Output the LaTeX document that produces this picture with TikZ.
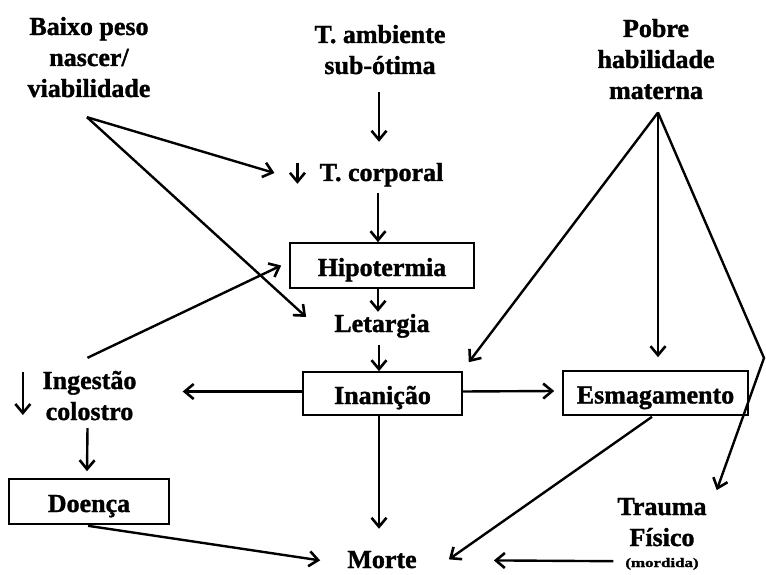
\documentclass[tikz,border=0pt]{standalone}
\usepackage{fontspec}
\setmainfont{Liberation Serif}[BoldFeatures={FakeBold=1.3}]
\usetikzlibrary{arrows.meta,calc}
\begin{document}
\begin{tikzpicture}[x=1pt,y=-1pt,
  txt/.style={inner sep=0pt,anchor=base,font=\bfseries\fontsize{26}{31}\selectfont},
  box/.style={draw,line width=1.6pt,inner sep=0pt,text height=21pt,text depth=0pt,font=\bfseries\fontsize{26}{31}\selectfont},
  arr/.style={line width=2.4pt,-{Straight Barb[length=9pt,width=15pt,line width=2.6pt]}}]
\useasboundingbox (0,0) rectangle (766,575);
% text nodes
\node[txt] (baixo) at (89,35) {\begin{tabular}[t]{@{}c@{}}Baixo peso\\nascer/\\viabilidade\end{tabular}};
\node[txt] (tamb) at (380,43) {\begin{tabular}[t]{@{}c@{}}T. ambiente\\sub-ótima\end{tabular}};
\node[txt] (pobre) at (656,37) {\begin{tabular}[t]{@{}c@{}}Pobre\\habilidade\\materna\end{tabular}};
\node[txt] (tcorp) at (381.5,181) {\begin{tabular}[t]{@{}c@{}}T. corporal\end{tabular}};
\node[txt] (letargia) at (382,332) {\begin{tabular}[t]{@{}c@{}}Letargia\end{tabular}};
\node[txt] (ingest) at (89.5,389) {\begin{tabular}[t]{@{}c@{}}Ingestão\\colostro\end{tabular}};
\node[txt] (trauma) at (662,515) {\begin{tabular}[t]{@{}c@{}}Trauma\\Físico\end{tabular}};
\node[inner sep=0pt,anchor=base,font=\bfseries\fontsize{13}{15}\selectfont] (mord) at (662,567) {\scalebox{1.3}[1]{(mordida)}};
\node[txt] (morte) at (382,568) {Morte};
% boxes
\node[box,minimum width=184pt,minimum height=45pt] (hipo) at (382,265.5) {Hipotermia};
\node[box,minimum width=159pt,minimum height=43pt] (inan) at (382.5,393.5) {Inanição};
\node[box,minimum width=185pt,minimum height=44pt] (esmag) at (655.5,393) {Esmagamento};
\node[box,minimum width=160pt,minimum height=45pt] (doenca) at (89,501.5) {Doença};
% down-marks (decrease)
\draw[arr,line width=2.2pt] ($(tcorp.west)+(-22,-12)$) -- ($(tcorp.west)+(-22,9)$);
\draw[arr] ($(ingest.west)+(-19.5,-26.3)$) -- ($(ingest.west)+(-19.5,16.7)$);
% connectors
\draw[arr] ($(tamb.south)+(-1,8.7)$) -- ($(tcorp.north)+(-2.5,-17.3)$);
\draw[arr] ($(tcorp.south)+(-3.5,2.7)$) -- ($(hipo.north)+(-4,0)$);
\draw[arr] ($(hipo.south)+(-4,0)$) -- ($(letargia.north)+(-4,1.7)$);
\draw[arr] ($(letargia.south)+(-3,3.7)$) -- ($(inan.north)+(-3.5,0)$);
\draw[arr] ($(inan.south)+(-3.5,0)$) -- ($(inan.south |- morte.north)+(-3.5,-22)$);
\draw[arr] ($(inan.west)+(0,-2)$) -- ($(inan.west -| ingest.east)+(46,-2)$);
\draw[arr] ($(inan.east)+(0,-2)$) -- ($(esmag.west)+(-8,-2)$);
\draw[arr] ($(pobre.south)+(2,4)$) -- ($(esmag.north)+(2.5,-13)$);
\draw[arr] ($(pobre.south)+(2,4)$) -- ($(inan.north east)+(6,-9)$);
\draw[arr] ($(pobre.south)+(2,4)$) -- (764,358) -- ($(trauma.north east)+(10,-3)$);
\draw[arr] ($(esmag.south)+(-3.5,1)$) -- ($(morte.north east)+(32,8.6)$);
\draw[arr] ($(trauma.south west)+(-4,5.7)$) -- ($(morte.east)+(77,0.8)$);
\draw[arr] ($(doenca.south)+(-1,1)$) -- ($(morte.west)+(-27,0.8)$);
\draw[arr] ($(ingest.south)+(-2,-1.3)$) -- ($(doenca.north)+(-2,-7)$);
\draw[arr] ($(ingest.north)+(-2,-9.3)$) -- ($(hipo.west)+(-8,0)$);
\draw[arr] ($(baixo.south)+(-2,10.7)$) -- ($(tcorp.west)+(-45,-1.8)$);
\draw[arr] ($(baixo.south)+(-2,10.7)$) -- ($(letargia.west)+(-28,-8.8)$);
\end{tikzpicture}
\end{document}
